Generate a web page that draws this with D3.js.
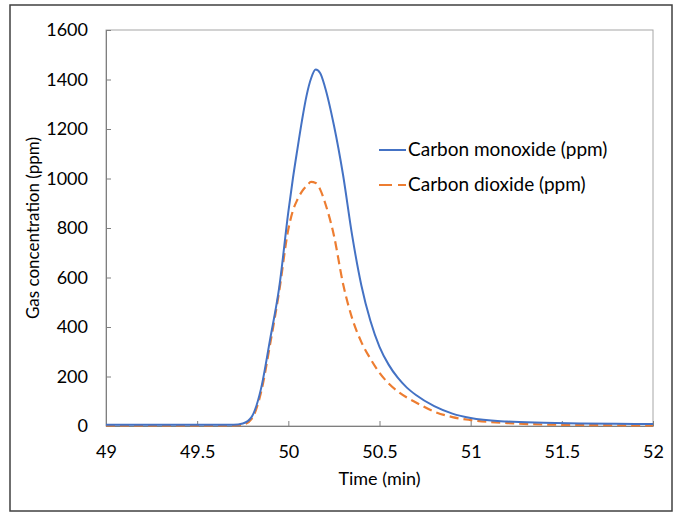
<!DOCTYPE html>
<html><head><meta charset="utf-8">
<script src="https://cdn.jsdelivr.net/npm/d3@7"></script>
<style>body{margin:0;background:#fff}</style>
</head><body>
<svg id="chart" width="676" height="514"></svg>
<script>
const times = [49.0, 49.5, 49.7, 49.75, 49.8, 49.85, 49.9, 49.95, 50.0, 50.025, 50.05, 50.075, 50.1, 50.125, 50.15, 50.175, 50.2, 50.25, 50.3, 50.35, 50.4, 50.45, 50.5, 50.55, 50.6, 50.65, 50.7, 50.8, 50.9, 51.0, 51.2, 51.4, 51.6, 51.8, 52.0];
const carbonMonoxide = [5, 5, 5, 10, 38, 150, 350, 560, 865, 1000, 1120, 1235, 1335, 1405, 1440, 1425, 1372, 1215, 1015, 770, 570, 425, 320, 248, 195, 155, 125, 80, 50, 32, 18, 13, 10, 9, 8];
const carbonDioxide = [2, 2, 2, 5, 30, 135, 330, 545, 795, 870, 915, 948, 970, 986, 982, 955, 905, 770, 575, 435, 340, 272, 215, 172, 140, 115, 95, 58, 36, 24, 12, 6, 4, 3, 2];
const seriesNames = ["Carbon monoxide (ppm)", "Carbon dioxide (ppm)"];
const xTicks = [49, 49.5, 50, 50.5, 51, 51.5, 52];
const yTicks = [0, 200, 400, 600, 800, 1000, 1200, 1400, 1600];

const svg = d3.select("#chart");
const font = "Lato, 'Open Sans', sans-serif";
const m = {left: 106, right: 653, top: 30, bottom: 426};
const x = d3.scaleLinear().domain([49, 52]).range([m.left, m.right]);
const y = d3.scaleLinear().domain([0, 1600]).range([m.bottom, m.top]);

svg.append("rect").attr("x", 10).attr("y", 5).attr("width", 662).attr("height", 506)
  .attr("fill", "#fff").attr("stroke", "#404040").attr("stroke-width", 1.5);

svg.append("rect").attr("x", m.left).attr("y", m.top).attr("width", m.right - m.left).attr("height", m.bottom - m.top)
  .attr("fill", "none").attr("stroke", "#a6a6a6").attr("stroke-width", 1);

// y axis (ticks inward)
const yAxis = svg.append("g").attr("transform", `translate(${m.left},0)`)
  .call(d3.axisLeft(y).tickValues(yTicks).tickSizeInner(-5).tickSizeOuter(0).tickPadding(18).tickFormat(d3.format("d")));
yAxis.select(".domain").attr("stroke", "#7f7f7f");
yAxis.selectAll(".tick line").attr("stroke", "#7f7f7f");
yAxis.selectAll("text").attr("font-family", font).attr("font-size", 18).attr("fill", "#000");

// x axis (ticks inward)
const xAxis = svg.append("g").attr("transform", `translate(0,${m.bottom})`)
  .call(d3.axisBottom(x).tickValues(xTicks).tickSizeInner(-5).tickSizeOuter(0).tickPadding(19).tickFormat(d => d3.format("")(d)));
xAxis.select(".domain").attr("stroke", "#7f7f7f").attr("stroke-width", 1.2);
xAxis.selectAll(".tick line").attr("stroke", "#7f7f7f");
xAxis.selectAll("text").attr("font-family", font).attr("font-size", 18).attr("fill", "#000");

svg.append("text").attr("x", (m.left + m.right) / 2).attr("y", 485).attr("text-anchor", "middle")
  .attr("font-family", font).attr("font-size", 18).attr("fill", "#000").text("Time (min)");
svg.append("text").attr("transform", `translate(39,${(m.top + m.bottom) / 2}) rotate(-90)`).attr("text-anchor", "middle")
  .attr("font-family", font).attr("font-size", 17).attr("fill", "#000").text("Gas concentration (ppm)");

const line = d3.line().x((d, i) => x(times[i])).y(d => y(d)).curve(d3.curveMonotoneX);
svg.append("path").datum(carbonDioxide).attr("d", line).attr("fill", "none")
  .attr("stroke", "#ED7D31").attr("stroke-width", 2.2).attr("stroke-dasharray", "9,5");
svg.append("path").datum(carbonMonoxide).attr("d", line).attr("fill", "none")
  .attr("stroke", "#4472C4").attr("stroke-width", 2);

// legend
const legend = [{name: seriesNames[0], color: "#4472C4", dash: null, y: 150},
                {name: seriesNames[1], color: "#ED7D31", dash: "13,6", y: 185}];
legend.forEach(l => {
  svg.append("line").attr("x1", 379).attr("x2", 406).attr("y1", l.y).attr("y2", l.y)
    .attr("stroke", l.color).attr("stroke-width", 2).attr("stroke-dasharray", l.dash);
  svg.append("text").attr("x", 408).attr("y", l.y + 6).attr("font-family", font).attr("font-size", 19)
    .attr("fill", "#000").text(l.name);
});
</script>
</body></html>
